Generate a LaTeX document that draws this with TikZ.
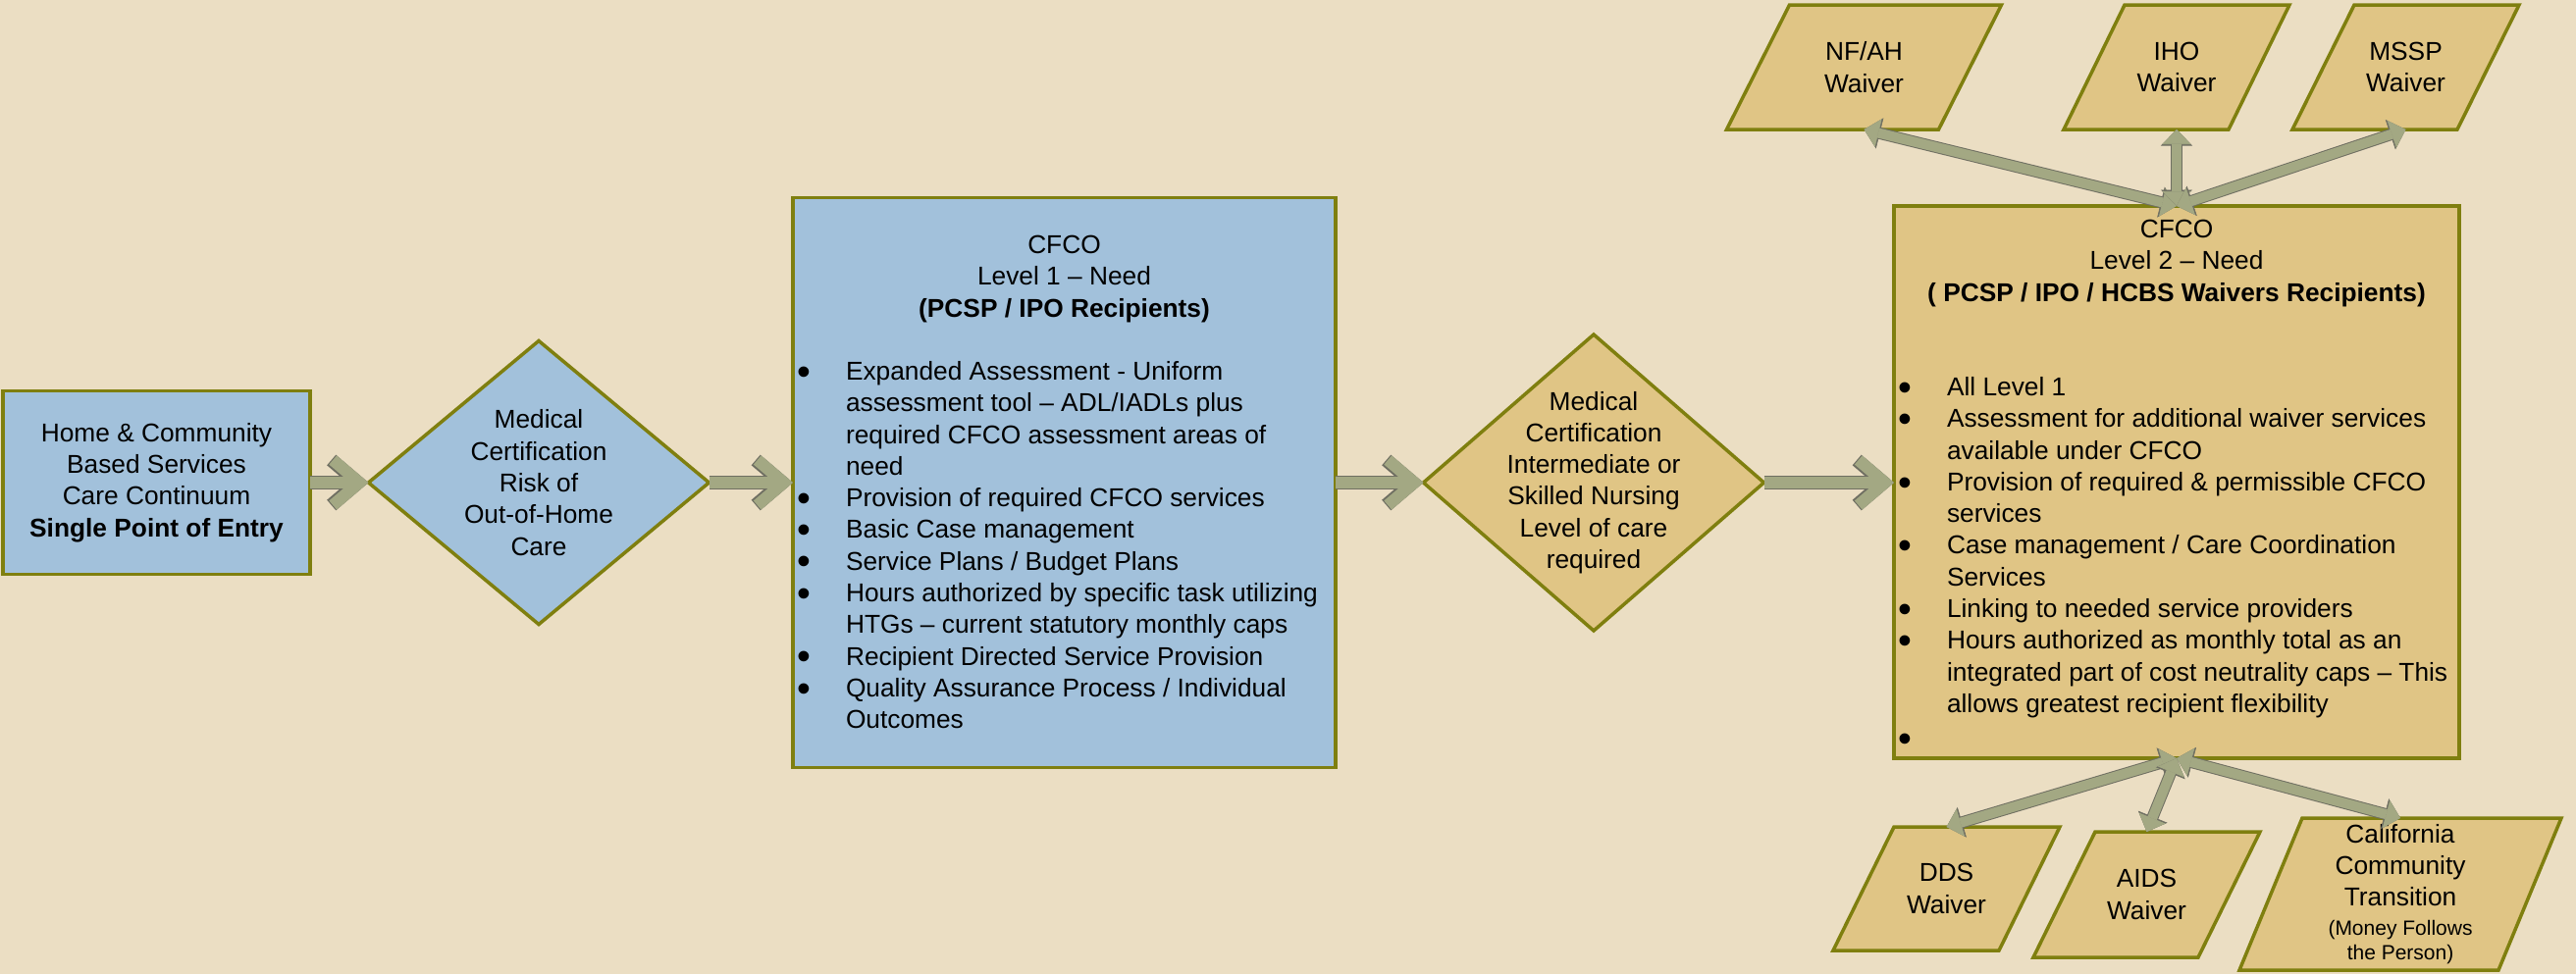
\documentclass[tikz,border=0pt]{standalone}
\usepackage{fontspec}
\setmainfont{Liberation Sans}
\usetikzlibrary{shapes.geometric,arrows.meta,calc}
\definecolor{bgcol}{HTML}{EBDEC3}
\definecolor{bluefill}{HTML}{A2C1DB}
\definecolor{goldfill}{HTML}{E0C585}
\definecolor{bordercol}{HTML}{7F7F0F}
\definecolor{arrfill}{HTML}{A3A883}
\definecolor{arrline}{HTML}{6F6F62}
\pgfdeclarelayer{bg}\pgfdeclarelayer{shp}\pgfsetlayers{bg,shp,main}
\newcommand{\bulit}{\makebox[50pt][l]{\smash{\raisebox{-0.18em}{\scalebox{1.5}{\textbullet}}}}}
\newcommand{\contin}{\hspace*{50pt}}
\newcommand{\smallfs}{\fontsize{21}{25}\selectfont}
\begin{document}
\begin{tikzpicture}[x=1pt,y=-1pt,
  every node/.style={font=\fontsize{26.3}{32.3}\selectfont, inner sep=0pt, outer sep=0pt},
  box/.style={draw=bordercol, line width=3.5pt, rectangle, align=center},
  bluebox/.style={box, fill=bluefill},
  goldbox/.style={box, fill=goldfill},
  dia/.style={diamond, draw=bordercol, line width=3.5pt},
  waiver/.style={align=center},
  wshape/.style={draw=bordercol, fill=goldfill, line width=3.5pt, line join=miter},
  conn/.style={draw=arrfill, line width=12pt,
    preaction={draw=arrline, line width=14pt},
    -{Straight Barb[length=27pt,width=46pt]}},
  wconn/.style={draw=arrfill, line width=10pt,
    preaction={draw=arrline, line width=12pt,
      {Triangle[length=16.5pt,width=32pt,line width=0.6pt]}-{Triangle[length=16.5pt,width=32pt,line width=0.6pt]}},
    {Triangle[length=15pt,width=29pt,line width=0.6pt]}-{Triangle[length=15pt,width=29pt,line width=0.6pt]}}]
\begin{pgfonlayer}{bg}
\fill[bgcol] (0,0) rectangle (2625,993);
\end{pgfonlayer}
\useasboundingbox (0,0) rectangle (2625,993);

% left box
\node[bluebox, minimum width=313pt, minimum height=187pt] (b1) at (159.5,492) {Home \& Community\\Based Services\\Care Continuum\\\textbf{Single Point of Entry}};

% diamond 1
\node[dia, fill=bluefill, minimum width=347pt, minimum height=289pt] (d1) at (549,492) {};
\node[align=center] (d1t) at (d1.center) {Medical\\Certification\\Risk of\\Out-of-Home\\Care};

% level 1 box
\node[bluebox, minimum width=553pt, minimum height=581pt] (b2) at (1084.5,492) {};
\node[anchor=north, align=center] (b2h) at (1084.5,235.8) {\strut CFCO\\Level 1 – Need\\\textbf{(PCSP / IPO Recipients)}};
\node[anchor=north west, align=left] (b2l) at (812,364.8) {\strut\bulit Expanded Assessment - Uniform\\
\contin assessment tool – ADL/IADLs plus\\
\contin required CFCO assessment areas of\\
\contin need\\
\bulit Provision of required CFCO services\\
\bulit Basic Case management\\
\bulit Service Plans / Budget Plans\\
\bulit Hours authorized by specific task utilizing\\
\contin HTGs – current statutory monthly caps\\
\bulit Recipient Directed Service Provision\\
\bulit Quality Assurance Process / Individual\\
\contin Outcomes};

% diamond 2
\node[dia, fill=goldfill, minimum width=347pt, minimum height=302pt] (d2) at (1624,492) {};
\node[align=center] (d2t) at (d2.center) {Medical\\Certification\\Intermediate or\\Skilled Nursing\\Level of care\\required};

% level 2 box
\node[goldbox, minimum width=576pt, minimum height=563pt] (b3) at (2218,491.5) {};
\node[anchor=north, align=center] (b3h) at (2218,219.8) {\strut CFCO\\Level 2 – Need\\\textbf{( PCSP / IPO / HCBS Waivers Recipients)}};
\node[anchor=north west, align=left] (b3l) at (1934,380.8) {\strut\bulit All Level 1\\
\bulit Assessment for additional waiver services\\
\contin available under CFCO\\
\bulit Provision of required \& permissible CFCO\\
\contin services\\
\bulit Case management / Care Coordination\\
\contin Services\\
\bulit Linking to needed service providers\\
\bulit Hours authorized as monthly total as an\\
\contin integrated part of cost neutrality caps – This\\
\contin allows greatest recipient flexibility\\[3pt]
\bulit};

% waivers
\node[waiver, minimum width=216pt, minimum height=127pt] (nfah) at (1899.5,68.5) {NF/AH\\Waiver};
\node[waiver, minimum width=168pt, minimum height=127pt] (iho) at (2218,68.5) {IHO\\Waiver};
\node[waiver, minimum width=168pt, minimum height=127pt] (mssp) at (2451.5,68.5) {MSSP\\Waiver};
\node[waiver, minimum width=169pt, minimum height=126pt] (dds) at (1983.5,906) {DDS\\Waiver};
\node[waiver, minimum width=168pt, minimum height=128pt] (aids) at (2187.5,912) {AIDS\\Waiver};
\node[waiver, minimum width=264pt, minimum height=155pt] (cct) at (2446,911.5) {California\\Community\\Transition\\[-3pt]\smallfs (Money Follows\\[-7pt]\smallfs the Person)};

\begin{pgfonlayer}{shp}
\foreach \n/\s in {nfah/32pt,iho/31pt,mssp/31.5pt,dds/31pt,aids/31.5pt,cct/32pt}
  \draw[wshape] ([xshift=-\s]\n.south west) -- ([xshift=-\s]\n.south east) -- ([xshift=\s]\n.north east) -- ([xshift=\s]\n.north west) -- cycle;
\end{pgfonlayer}

% main flow
\draw[conn] (b1.east) -- (d1.west);
\draw[conn] (d1.east) -- (b2.west);
\draw[conn] (b2.east) -- (d2.west);
\draw[conn] (d2.east) -- (b3.west |- d2.east);

% waiver links
\draw[wconn] (b3.north) -- (nfah.south);
\draw[wconn] (b3.north) -- (iho.south);
\draw[wconn] (b3.north) -- (mssp.south);
\draw[wconn] (b3.south) -- (dds.north);
\draw[wconn] (b3.south) -- (aids.north);
\draw[wconn] (b3.south) -- (cct.north);
\end{tikzpicture}
\end{document}
